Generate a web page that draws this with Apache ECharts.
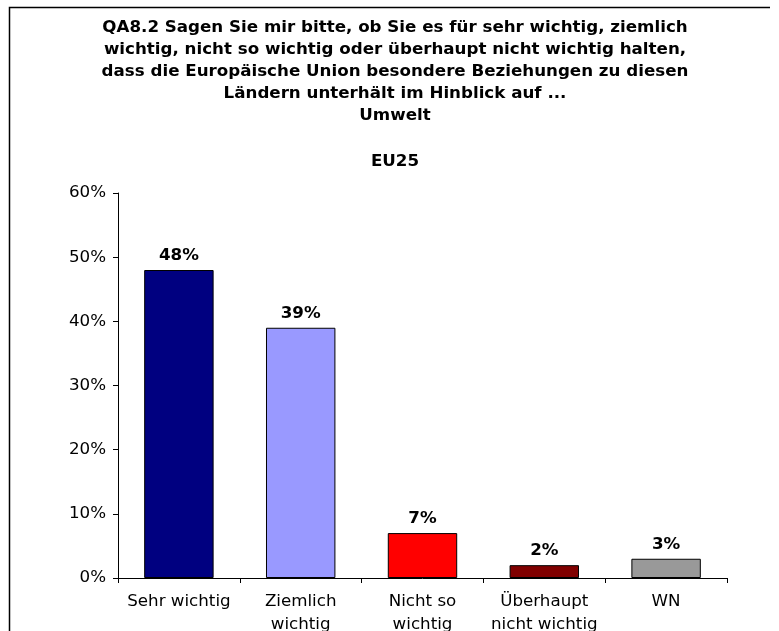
<!DOCTYPE html>
<html>
<head>
<meta charset="utf-8">
<script src="https://cdn.jsdelivr.net/npm/echarts@6/dist/echarts.min.js"></script>
<style>
  html, body { margin: 0; padding: 0; background: #fff; }
  #chart { width: 779px; height: 631px; }
</style>
</head>
<body>
<div id="chart"></div>
<script>
const categories = ['Sehr wichtig', 'Ziemlich\nwichtig', 'Nicht so\nwichtig', 'Überhaupt\nnicht wichtig', 'WN']
const values = [48, 39, 7, 2, 3]
const barColors = ['#000080', '#9999ff', '#ff0000', '#800000', '#999999']
const yTicks = [0, 10, 20, 30, 40, 50, 60]

const titleText = 'QA8.2 Sagen Sie mir bitte, ob Sie es für sehr wichtig, ziemlich\n' +
  'wichtig, nicht so wichtig oder überhaupt nicht wichtig halten,\n' +
  'dass die Europäische Union besondere Beziehungen zu diesen\n' +
  'Ländern unterhält im Hinblick auf ...\n' +
  'Umwelt'
const subTitle = 'EU25'

const font = 'DejaVu Sans, Verdana, sans-serif'
const fs = 16.7
const chart = echarts.init(document.getElementById('chart'))

const options = {
  backgroundColor: '#fff',
  animation: false,
  title: [
    {
      text: titleText,
      left: 390,
      top: 12,
      textAlign: 'center',
      textStyle: {
        fontFamily: font,
        fontSize: fs,
        fontWeight: 'bold',
        color: '#000',
        lineHeight: 22
      }
    },
    {
      text: subTitle,
      left: 390,
      top: 148,
      textAlign: 'center',
      textStyle: { fontFamily: font, fontSize: fs, fontWeight: 'bold', color: '#000' }
    }
  ],
  graphic: [
    {
      type: 'polyline',
      shape: { points: [[9.5, 640], [9.5, 7.5], [770, 7.5]] },
      style: { stroke: '#000', lineWidth: 1.5, fill: null }
    }
  ],
  grid: { left: 118, right: 52, top: 193, bottom: 53, containLabel: false, outerBoundsMode: 'none' },
  xAxis: {
    type: 'category',
    data: categories,
    axisLine: { lineStyle: { color: '#000' } },
    axisTick: { show: true, length: 5, lineStyle: { color: '#000' } },
    axisLabel: { fontFamily: font, fontSize: fs, color: '#000', margin: 12, lineHeight: 23, interval: 0 }
  },
  yAxis: {
    type: 'value',
    min: yTicks[0],
    max: yTicks[yTicks.length - 1],
    interval: 10,
    axisLine: { show: true, lineStyle: { color: '#000' } },
    axisTick: { show: true, length: 5, lineStyle: { color: '#000' } },
    splitLine: { show: false },
    axisLabel: { fontFamily: font, fontSize: fs, color: '#000', margin: 12, formatter: '{value}%' }
  },
  series: [
    {
      type: 'bar',
      barWidth: '57%',
      data: values.map((v, i) => ({
        value: v,
        itemStyle: { color: barColors[i], borderColor: '#000', borderWidth: 1 }
      })),
      label: {
        show: true,
        position: 'top',
        distance: 6,
        formatter: '{c}%',
        fontFamily: font,
        fontSize: fs,
        fontWeight: 'bold',
        color: '#000'
      }
    }
  ]
}

chart.setOption(options)
</script>
</body>
</html>
